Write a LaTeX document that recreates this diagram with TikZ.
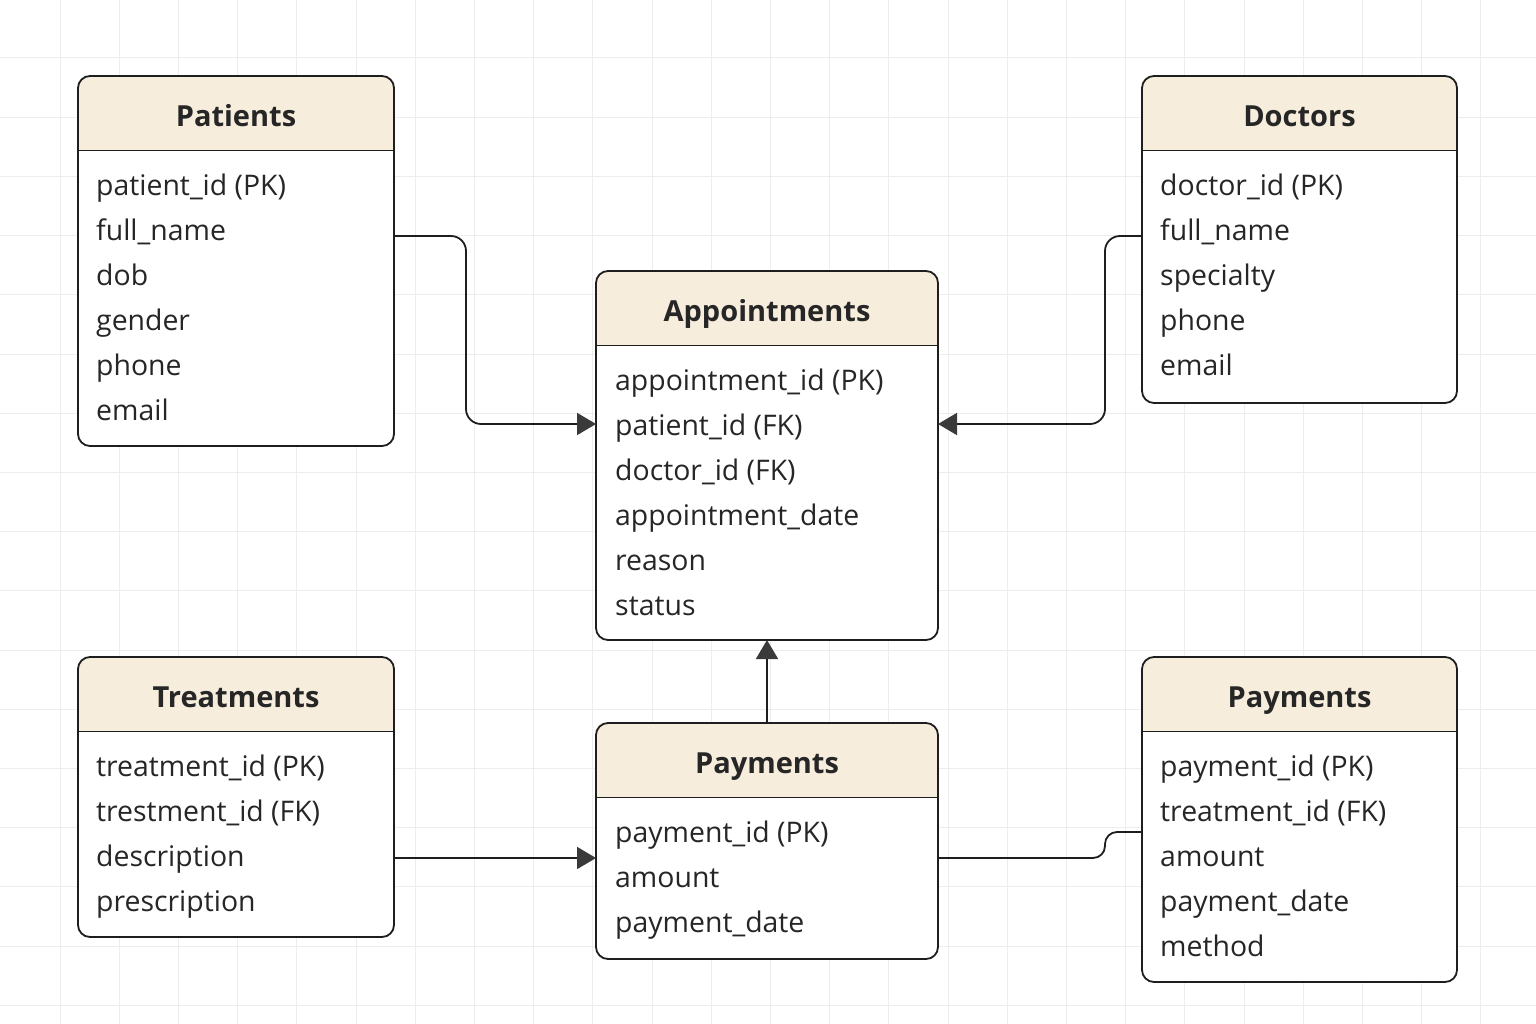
\documentclass[tikz,border=0pt]{standalone}
\usepackage{fontspec}
\setmainfont{Open Sans}
\usetikzlibrary{arrows.meta}
\definecolor{hdr}{HTML}{F7EDDC}
\definecolor{ink}{HTML}{1E1E1E}
\definecolor{txt}{HTML}{262626}
\definecolor{gridc}{HTML}{EDEDED}
\definecolor{tipc}{HTML}{3A3A3A}
\tikzset{
  boxbody/.style={rectangle, fill=white, inner sep=0pt, outer sep=0pt},
  headtext/.style={font=\fontsize{29}{34}\selectfont\bfseries, text=txt, inner sep=0pt, anchor=base},
  rowtext/.style={font=\fontsize{28.4}{34}\selectfont, text=txt, inner sep=0pt, anchor=base west},
  conn/.style={draw=ink, line width=1.8pt},
  tip/.style={-{Triangle[length=19pt,width=22pt,color=tipc]}},
  gridline/.style={draw=gridc, line width=1pt},
}
\newcommand\erbox[6]{%
  \node[boxbody, minimum width=#4pt, minimum height=#5pt, anchor=north west] (#1) at (#2,#3) {};
  \begin{scope}
    \clip[rounded corners=12pt] (#1.north west) rectangle (#1.south east);
    \fill[hdr] (#1.north west) rectangle ([yshift=-74.5pt]#1.north east);
  \end{scope}
  \draw[ink, line width=1.8pt] ([yshift=-74.5pt]#1.north west) -- ([yshift=-74.5pt]#1.north east);
  \draw[ink, line width=1.8pt, rounded corners=12pt] (#1.north west) rectangle (#1.south east);
  \node[headtext] (#1-title) at ([yshift=-50.5pt]#1.north) {#6};
}
\newcommand\errows[4]{%
  \foreach \t [count=\i] in {#4} \node[rowtext] (#1-r\i) at (#2,#3+45*\i-45) {\t};
}
\begin{document}
\begin{tikzpicture}[x=1pt,y=-1pt]
\fill[white] (0,0) rectangle (1536,1024);
\useasboundingbox (0,0) rectangle (1536,1024);
\foreach \k in {0,...,25} \draw[gridline] (60+59.2*\k,0) -- (60+59.2*\k,1024);
\foreach \k in {0,...,16} \draw[gridline] (0,58+59.2*\k) -- (1536,58+59.2*\k);

\erbox{pat}{78}{76}{316}{370}{Patients}
\errows{pat}{96}{195.5}{patient\_id (PK),full\_name,dob,gender,phone,email}

\erbox{doc}{1142}{76}{315}{327}{Doctors}
\errows{doc}{1160}{195.5}{doctor\_id (PK),full\_name,specialty,phone,email}

\erbox{app}{596}{271}{342}{369}{Appointments}
\errows{app}{615}{390.5}{appointment\_id (PK),patient\_id (FK),doctor\_id (FK),appointment\_date,reason,status}

\erbox{trt}{78}{657}{316}{280}{Treatments}
\errows{trt}{96}{776.5}{treatment\_id (PK),trestment\_id (FK),description,prescription}

\erbox{paym}{596}{723}{342}{236}{Payments}
\errows{paym}{615}{842.5}{payment\_id (PK),amount,payment\_date}

\erbox{payr}{1142}{657}{315}{325}{Payments}
\errows{payr}{1160}{776.5}{payment\_id (PK),treatment\_id (FK),amount,payment\_date,method}

\draw[conn, tip, rounded corners=15pt] ([yshift=-160pt]pat.north east) -- ++(72,0) |- ([yshift=-153pt]app.north west);
\draw[conn, tip, rounded corners=15pt] ([yshift=-160pt]doc.north west) -- ++(-37,0) |- ([yshift=-153pt]app.north east);
\draw[conn, tip] (paym.north) -- (app.south);
\draw[conn, tip] ([yshift=-201pt]trt.north east) -- ([yshift=-135pt]paym.north west);
\draw[conn, rounded corners=12pt] ([yshift=-135pt]paym.north east) -- ++(167,0) |- ([yshift=-175pt]payr.north west);
\end{tikzpicture}
\end{document}
